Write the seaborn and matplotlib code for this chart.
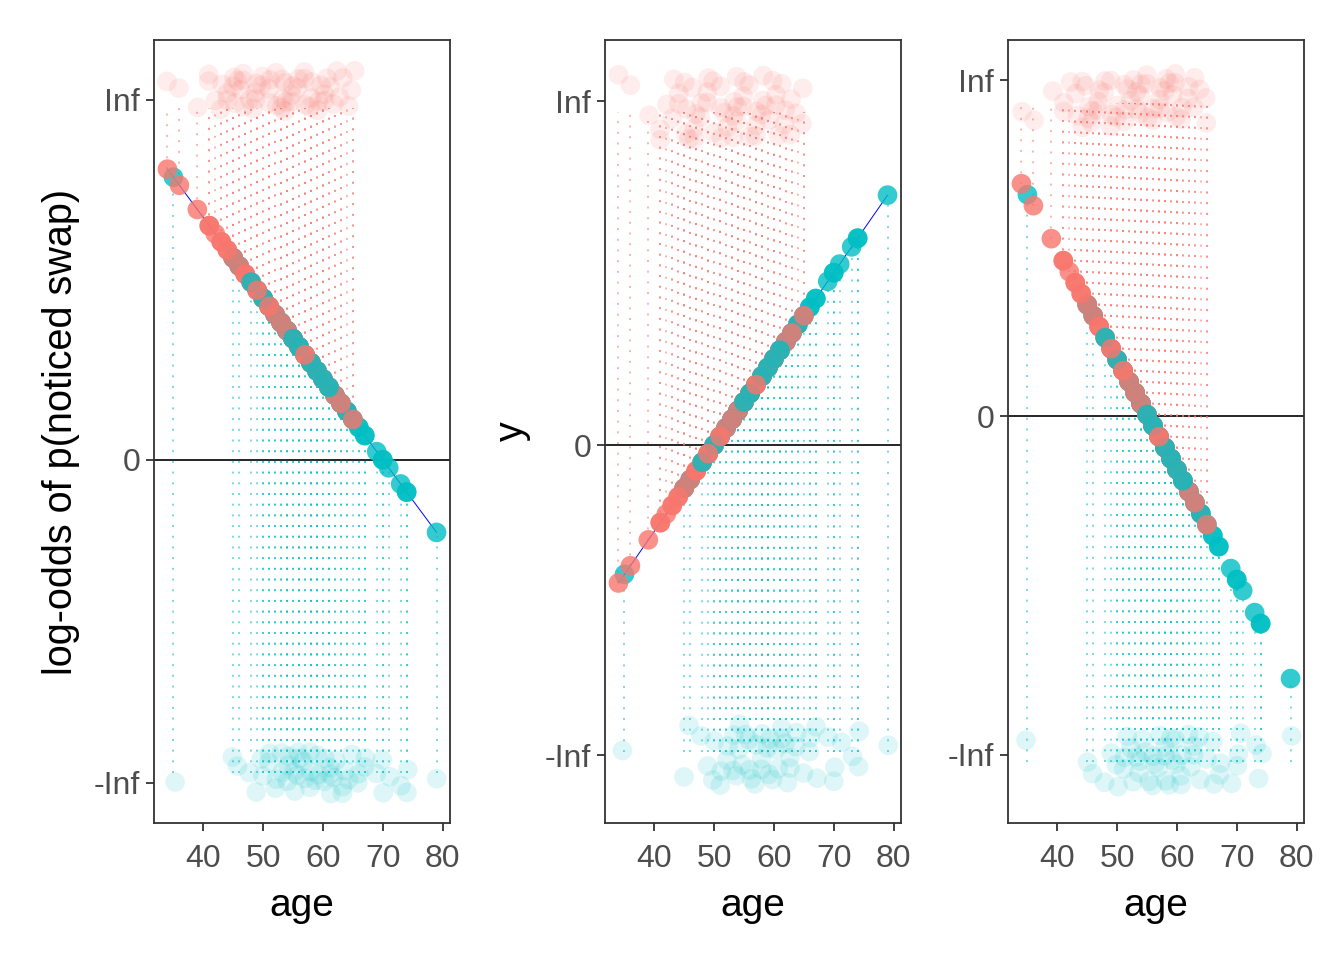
import numpy as np
import pandas as pd
import matplotlib
matplotlib.use("Agg")
import matplotlib.pyplot as plt
import seaborn as sns

sns.set_theme(style="white")
plt.rcParams["font.family"] = ["Liberation Sans", "DejaVu Sans"]

RED = "#F8766D"
TEAL = "#00BFC4"

# ---- data: ages of people who noticed / missed the swap ----
noticed_ages = [34, 36, 39, 41, 42, 43, 44, 45, 46, 47, 48, 49, 50, 51, 52,
                53, 54, 55, 56, 57, 58, 59, 60, 61, 62, 63, 64, 65]
noticed_counts = [1, 1, 1, 2, 1, 2, 2, 3, 2, 3, 2, 3, 2, 3, 2,
                  3, 3, 3, 2, 3, 3, 2, 3, 2, 2, 2, 1, 2]
missed_ages = [35, 45, 46, 48, 49, 50, 51, 52, 53, 54, 55, 56, 57, 58, 59,
               60, 61, 62, 63, 64, 65, 66, 67, 69, 70, 71, 73, 74, 79]
missed_counts = [1, 1, 1, 1, 1, 2, 2, 2, 2, 3, 2, 3, 2, 3, 3,
                 2, 3, 2, 2, 2, 1, 2, 2, 1, 2, 1, 1, 2, 1]

# ---- per panel: fitted log-odds line and where +/-Inf sit ----
y_titles = ["log-odds of p(noticed swap)", "y", ""]
intercepts = [7.0, -5.0, 8.27]
slopes = [-0.1, 0.1, -0.15]
inf_at = [4.46, 3.99, 4.58]
neginf_at = [-4.00, -3.60, -4.62]
top_cloud = [4.58, 3.92, 4.31]
bottom_cloud = [-3.88, -3.60, -4.69]
cloud_spread = [0.26, 0.38, 0.37]
seg_top = [4.36, 3.86, 4.27]
seg_bottom = [-3.88, -3.56, -4.72]
y_limits = [(-4.50, 5.20), (-4.385, 4.70), (-5.55, 5.13)]
draw_fit_line = [True, True, False]
x_ticks = [40, 50, 60, 70, 80]

rows = []
for a, n in zip(noticed_ages, noticed_counts):
    rows += [(a, 1)] * n
for a, n in zip(missed_ages, missed_counts):
    rows += [(a, 0)] * n
df = pd.DataFrame(rows, columns=["age", "noticed"])


def frac(v):
    return v - np.floor(v)


# mixed drawing order (like unsorted raw data), deterministic
k0 = np.arange(len(df))
df = df.iloc[np.argsort(frac(k0 * 0.6180339 + 0.37))].reset_index(drop=True)
k = np.arange(len(df))

fig = plt.figure(figsize=(13.44, 9.6), dpi=100)
lefts = [154, 605, 1008]

for i in range(3):
    ax = fig.add_axes([lefts[i] / 1344, 1 - 823 / 960, 296 / 1344, 783 / 960])
    d = df.copy()
    d["fit"] = intercepts[i] + slopes[i] * d["age"]
    jx = frac(k * 0.4142136 + 0.13 * i) * 2 - 1
    jy = frac(k * 0.7548777 + 0.29 * i) * 2 - 1
    d["age_j"] = d["age"] + 0.35 * jx
    d["y_j"] = np.where(d["noticed"] == 1, top_cloud[i], bottom_cloud[i]) + cloud_spread[i] * jy

    red = d[d["noticed"] == 1]
    teal = d[d["noticed"] == 0]

    ax.axhline(0, color="black", lw=1.2, zorder=1)
    ax.vlines(red["age"], red["fit"], seg_top[i], colors=RED, linestyles=(0, (1, 4.5)),
              linewidth=1.4, alpha=0.55, zorder=2)
    ax.vlines(teal["age"], seg_bottom[i], teal["fit"], colors=TEAL, linestyles=(0, (1, 4.5)),
              linewidth=1.4, alpha=0.55, zorder=2)

    sns.scatterplot(data=d, x="age_j", y="y_j", hue="noticed", palette={1: RED, 0: TEAL},
                    s=200, alpha=0.13, linewidth=0, legend=False, ax=ax, zorder=3)
    if draw_fit_line[i]:
        sns.lineplot(data=d, x="age", y="fit", color="blue", lw=0.7, errorbar=None,
                     ax=ax, zorder=4)
    sns.scatterplot(data=d, x="age", y="fit", hue="noticed", palette={1: RED, 0: TEAL},
                    s=200, alpha=0.8, linewidth=0, legend=False, ax=ax, zorder=5)

    ax.set_xlim(31.75, 81.25)
    ax.set_ylim(*y_limits[i])
    ax.set_xticks(x_ticks)
    ax.set_xticklabels([str(t) for t in x_ticks])
    ax.set_yticks([neginf_at[i], 0, inf_at[i]])
    ax.set_yticklabels(["-Inf", "0", "Inf"])
    ax.tick_params(direction="out", length=6, width=1.3, color="#333333",
                   labelcolor="#4D4D4D", labelsize=23, bottom=True, left=True)
    ax.tick_params(axis="x", pad=9)
    ax.tick_params(axis="y", pad=4)
    for sp in ax.spines.values():
        sp.set_visible(True)
        sp.set_color("#333333")
        sp.set_linewidth(1.3)
    ax.set_xlabel("age", fontsize=28, color="black", labelpad=10)
    ax.set_ylabel(y_titles[i], fontsize=28.5, color="black", labelpad=10)

fig.savefig("out.png", dpi=100)
